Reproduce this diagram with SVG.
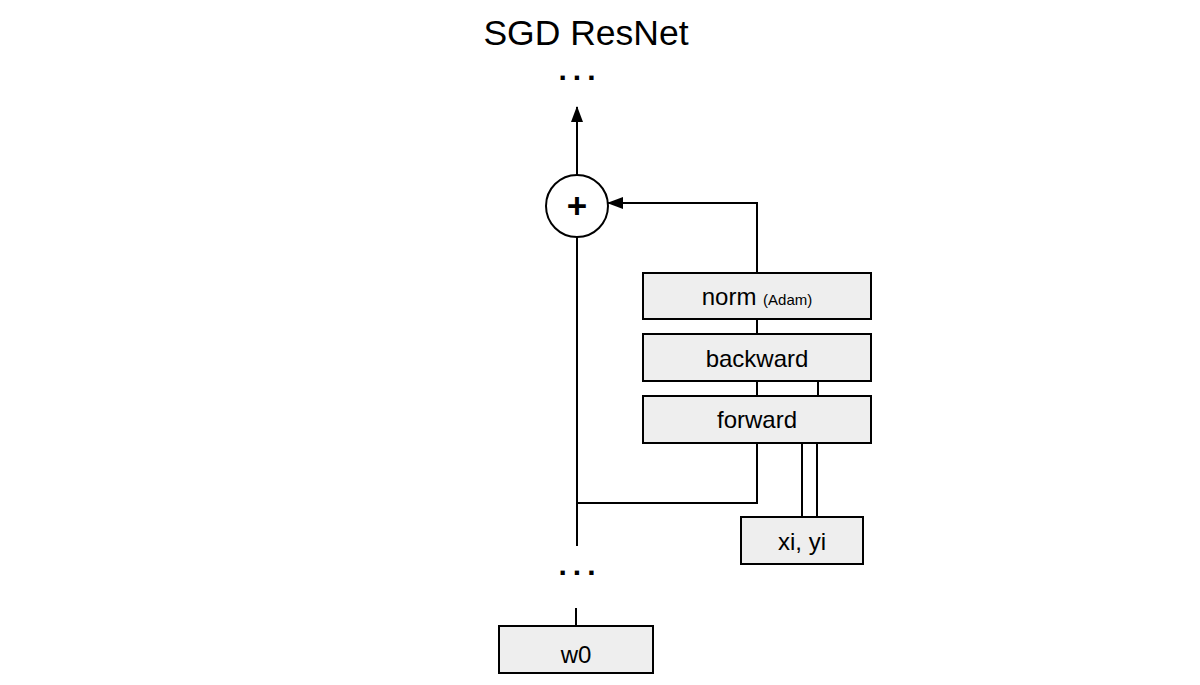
<svg xmlns="http://www.w3.org/2000/svg" width="1200" height="685" viewBox="0 0 1200 685">
<style>
.box{fill:#eeeeee;stroke:#000;stroke-width:2}
.t{font-family:"Liberation Sans",Arial,sans-serif;font-size:24px;fill:#000;text-anchor:middle}
.ln{fill:none;stroke:#000;stroke-width:2}
.dots{font-family:"Liberation Sans",Arial,sans-serif;font-size:30px;font-weight:bold;fill:#000;text-anchor:middle;letter-spacing:6px}
</style>
<defs>
<marker id="ah" markerWidth="16" markerHeight="12" refX="15" refY="6" orient="auto" markerUnits="userSpaceOnUse">
<path d="M0,0 L16,6 L0,12 Z" fill="#000"/>
</marker>
</defs>
<rect width="1200" height="685" fill="#fff"/>
<text x="586" y="45" class="t" style="font-size:35.5px">SGD ResNet</text>
<text x="580" y="80" class="dots">...</text>
<text x="580" y="575" class="dots">...</text>
<g id="connectors">
<line class="ln" x1="577" y1="175" x2="577" y2="107" marker-end="url(#ah)"/>
<line class="ln" x1="577" y1="237" x2="577" y2="546"/>
<polyline class="ln" points="757,273 757,203 608,203" marker-end="url(#ah)"/>
<line class="ln" x1="757" y1="319" x2="757" y2="334"/>
<line class="ln" x1="757" y1="381" x2="757" y2="396"/>
<line class="ln" x1="818" y1="381" x2="818" y2="396"/>
<polyline class="ln" points="757,443 757,503 577,503"/>
<line class="ln" x1="802" y1="443" x2="802" y2="517"/>
<line class="ln" x1="817" y1="443" x2="817" y2="517"/>
<line class="ln" x1="576" y1="608" x2="576" y2="626"/>
</g>
<g id="plus">
<circle cx="577" cy="206" r="31" fill="#fff" stroke="#000" stroke-width="2"/>
<text x="577" y="218" class="t" style="font-size:35px;font-weight:bold">+</text>
</g>
<g id="norm">
<rect class="box" x="643" y="273" width="228" height="46"/>
<text x="757" y="305" class="t">norm <tspan style="font-size:15px">(Adam)</tspan></text>
</g>
<g id="backward">
<rect class="box" x="643" y="334" width="228" height="47"/>
<text x="757" y="367" class="t">backward</text>
</g>
<g id="forward">
<rect class="box" x="643" y="396" width="228" height="47"/>
<text x="757" y="428" class="t">forward</text>
</g>
<g id="xiyi">
<rect class="box" x="741" y="517" width="122" height="47"/>
<text x="802" y="550" class="t">xi, yi</text>
</g>
<g id="w0">
<rect class="box" x="499" y="626" width="154" height="47"/>
<text x="576" y="663" class="t">w0</text>
</g>
</svg>
